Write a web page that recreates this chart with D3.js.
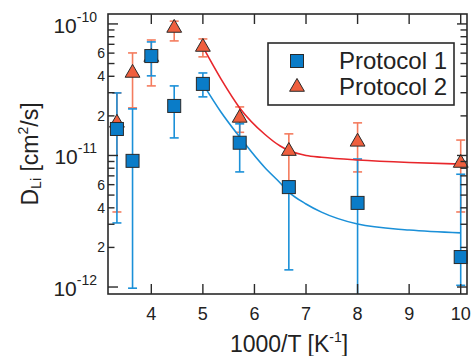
<!DOCTYPE html>
<html>
<head>
<meta charset="utf-8">
<script src="https://cdn.jsdelivr.net/npm/d3@7"></script>
<style>
  body { margin: 0; background: #fff; }
  svg { font-family: "Liberation Sans", Arial, Helvetica, sans-serif; }
</style>
</head>
<body>
<div id="chart"></div>
<script>
// x values: 1000/T for T = 300 ... 100 K
const invTemp = [3.333, 3.636, 4.0, 4.444, 5.0, 5.714, 6.667, 8.0, 10.0];

// Protocol 1 (blue squares) with error bar ends
const p1Value = [1.59e-11, 9.1e-12, 5.7e-11, 2.38e-11, 3.5e-11, 1.25e-11, 5.75e-12, 4.36e-12, 1.69e-12];
const p1Upper = [2.99e-11, 2.26e-11, 7.3e-11, 3.38e-11, 4.24e-11, 1.74e-11, 6.4e-12, 9.4e-12, 7.2e-12];
const p1Lower = [3.07e-12, 0.98e-12, 4.03e-11, 1.36e-11, 2.79e-11, 7.5e-12, 1.35e-12, 5e-13, 1.03e-12];

// Protocol 2 (red triangles) with error bar ends
const p2Value = [1.77e-11, 4.24e-11, 5.6e-11, 9.32e-11, 6.68e-11, 1.93e-11, 1.08e-11, 1.27e-11, 8.77e-12];
const p2Upper = [2.99e-11, 6.02e-11, 7.55e-11, 1.05e-10, 7.69e-11, 2.34e-11, 1.46e-11, 1.77e-11, 1.31e-11];
const p2Lower = [3.72e-12, 2.3e-11, 3.38e-11, 7.43e-11, 5.62e-11, 1.5e-11, 6.4e-12, 7.5e-12, 3.72e-12];

// fitted curves
const fitX = [5.0, 5.35, 5.714, 6.2, 6.5, 6.667, 7.0, 7.3, 8.0, 9.0, 10.0];
const fit1 = [3.5e-11, 2.14e-11, 1.38e-11, 8.1e-12, 6.18e-12, 5.27e-12, 4.28e-12, 3.71e-12, 3.01e-12, 2.71e-12, 2.58e-12];
const fit2 = [6.68e-11, 3.82e-11, 2.3e-11, 1.45e-11, 1.18e-11, 1.09e-11, 1.0e-11, 9.7e-12, 9.25e-12, 8.85e-12, 8.6e-12];

// axis ticks
const xTicks = [4, 5, 6, 7, 8, 9, 10];
const decades = [-12, -11, -10];
const minorLabels = [2, 4, 6];
const seriesNames = ["Protocol 1", "Protocol 2"];

const width = 475;
const height = 356;
const margin = { top: 14, right: 8, bottom: 62, left: 108 };
const innerW = width - margin.left - margin.right;
const innerH = height - margin.top - margin.bottom;

const blue = "#0a7cc8";
const blueLine = "#1b90d8";
const red = "#ef5f3e";
const redBar = "#f47c5e";
const redLine = "#e8262b";
const axisColor = "#2a2a2a";

const svg = d3
  .select("#chart")
  .append("svg")
  .attr("width", width)
  .attr("height", height);

const g = svg
  .append("g")
  .attr("transform", `translate(${margin.left},${margin.top})`);

// scales
const x = d3.scaleLinear().domain([3.16, 10.122]).range([0, innerW]);
const y = d3.scaleLog().domain([8.85e-13, 1.19e-10]).range([innerH, 0]);

// clip for error bars running off the plot
g.append("clipPath")
  .attr("id", "plot-clip")
  .append("rect")
  .attr("width", innerW)
  .attr("height", innerH);

const plot = g.append("g").attr("clip-path", "url(#plot-clip)");

// error bars
function drawErrorBars(values, upper, lower, color) {
  const bars = plot
    .append("g")
    .selectAll("g")
    .data(invTemp.map((t, i) => ({ t: t, hi: upper[i], lo: lower[i] })))
    .enter()
    .append("g")
    .attr("stroke", color)
    .attr("stroke-width", 1.6);
  bars
    .append("line")
    .attr("x1", (d) => x(d.t))
    .attr("x2", (d) => x(d.t))
    .attr("y1", (d) => y(d.hi))
    .attr("y2", (d) => y(d.lo));
  bars
    .append("line")
    .attr("x1", (d) => x(d.t) - 4.5)
    .attr("x2", (d) => x(d.t) + 4.5)
    .attr("y1", (d) => y(d.hi))
    .attr("y2", (d) => y(d.hi));
  bars
    .append("line")
    .attr("x1", (d) => x(d.t) - 4.5)
    .attr("x2", (d) => x(d.t) + 4.5)
    .attr("y1", (d) => y(d.lo))
    .attr("y2", (d) => y(d.lo));
}

drawErrorBars(p2Value, p2Upper, p2Lower, redBar);
drawErrorBars(p1Value, p1Upper, p1Lower, blueLine);

// fitted lines
const fitLine = d3
  .line()
  .x((d) => x(d[0]))
  .y((d) => y(d[1]))
  .curve(d3.curveMonotoneX);

plot
  .append("path")
  .attr("d", fitLine(fitX.map((t, i) => [t, fit2[i]])))
  .attr("fill", "none")
  .attr("stroke", redLine)
  .attr("stroke-width", 1.6);

plot
  .append("path")
  .attr("d", fitLine(fitX.map((t, i) => [t, fit1[i]])))
  .attr("fill", "none")
  .attr("stroke", blueLine)
  .attr("stroke-width", 1.6);

// markers
const triangle = d3.symbol().type(d3.symbolTriangle).size(95);

g.append("g")
  .selectAll("path")
  .data(invTemp.map((t, i) => [t, p2Value[i]]))
  .enter()
  .append("path")
  .attr("d", triangle)
  .attr("transform", (d) => `translate(${x(d[0])},${y(d[1])})`)
  .attr("fill", red)
  .attr("stroke", axisColor)
  .attr("stroke-width", 1);

g.append("g")
  .selectAll("rect")
  .data(invTemp.map((t, i) => [t, p1Value[i]]))
  .enter()
  .append("rect")
  .attr("x", (d) => x(d[0]) - 6.5)
  .attr("y", (d) => y(d[1]) - 6.5)
  .attr("width", 13)
  .attr("height", 13)
  .attr("fill", blue)
  .attr("stroke", axisColor)
  .attr("stroke-width", 1);

// frame
g.append("rect")
  .attr("width", innerW)
  .attr("height", innerH)
  .attr("fill", "none")
  .attr("stroke", axisColor)
  .attr("stroke-width", 1.6);

// x ticks (inward, bottom and top)
const xt = g.append("g").attr("stroke", axisColor).attr("stroke-width", 1.4);
xTicks.forEach((t) => {
  xt.append("line")
    .attr("x1", x(t)).attr("x2", x(t))
    .attr("y1", innerH).attr("y2", innerH - 10);
  xt.append("line")
    .attr("x1", x(t)).attr("x2", x(t))
    .attr("y1", 0).attr("y2", 10);
});

g.append("g")
  .selectAll("text")
  .data(xTicks)
  .enter()
  .append("text")
  .attr("x", (d) => x(d))
  .attr("y", innerH + 26)
  .attr("text-anchor", "middle")
  .style("font-size", "18px")
  .style("fill", "#222")
  .text((d) => d);

// y ticks (log, inward, left and right)
const yt = g.append("g").attr("stroke", axisColor).attr("stroke-width", 1.4);
decades.forEach((p) => {
  for (let m = 1; m <= 9; m++) {
    const v = m * Math.pow(10, p);
    const py = y(v);
    if (py < 1 || py > innerH - 2) continue;
    const len = m === 1 ? 10 : 6.5;
    yt.append("line").attr("x1", 0).attr("x2", len).attr("y1", py).attr("y2", py);
    yt.append("line").attr("x1", innerW).attr("x2", innerW - len).attr("y1", py).attr("y2", py);
  }
});

// decade labels 10^p
decades.forEach((p) => {
  const lbl = g
    .append("text")
    .attr("x", -11)
    .attr("y", y(Math.pow(10, p)) + 9)
    .attr("text-anchor", "end")
    .style("fill", "#222");
  lbl.append("tspan").style("font-size", "21px").text("10");
  lbl.append("tspan")
    .attr("dy", -11)
    .style("font-size", "14px")
    .text(String(p));
});

// minor labels 2, 4, 6
decades.forEach((p) => {
  minorLabels.forEach((m) => {
    const v = m * Math.pow(10, p);
    if (v > y.domain()[1]) return;
    g.append("text")
      .attr("x", -3)
      .attr("y", y(v) + 5)
      .attr("text-anchor", "end")
      .style("font-size", "14px")
      .style("fill", "#222")
      .text(m);
  });
});

// axis titles
const xTitle = svg
  .append("text")
  .attr("x", 289)
  .attr("y", 352)
  .attr("text-anchor", "middle")
  .style("font-size", "23px")
  .style("fill", "#222");
xTitle.append("tspan").text("1000/T [K");
xTitle.append("tspan").attr("dy", -10).style("font-size", "14px").text("-1");
xTitle.append("tspan").attr("dy", 10).text("]");

const yTitle = svg
  .append("text")
  .attr("transform", "translate(38,154) rotate(-90)")
  .attr("text-anchor", "middle")
  .style("font-size", "23px")
  .style("fill", "#222");
yTitle.append("tspan").text("D");
yTitle.append("tspan").attr("dy", 3).style("font-size", "14px").text("Li");
yTitle.append("tspan").attr("dy", -3).text(" [cm");
yTitle.append("tspan").attr("dy", -10).style("font-size", "14px").text("2");
yTitle.append("tspan").attr("dy", 10).text("/s]");

// legend
const legend = svg.append("g");
legend
  .append("rect")
  .attr("x", 268)
  .attr("y", 43)
  .attr("width", 186)
  .attr("height", 62)
  .attr("fill", "#fff")
  .attr("stroke", axisColor)
  .attr("stroke-width", 1.6);

legend
  .append("rect")
  .attr("x", 297 - 6.5)
  .attr("y", 61 - 6.5)
  .attr("width", 13)
  .attr("height", 13)
  .attr("fill", blue)
  .attr("stroke", axisColor);

legend
  .append("path")
  .attr("d", triangle)
  .attr("transform", "translate(297,87)")
  .attr("fill", red)
  .attr("stroke", axisColor);

legend
  .selectAll(".legend-label")
  .data(seriesNames)
  .enter()
  .append("text")
  .attr("class", "legend-label")
  .attr("x", 447)
  .attr("y", (d, i) => 69 + i * 26)
  .attr("text-anchor", "end")
  .style("font-size", "24px")
  .style("fill", "#222")
  .text((d) => d);
</script>
</body>
</html>
